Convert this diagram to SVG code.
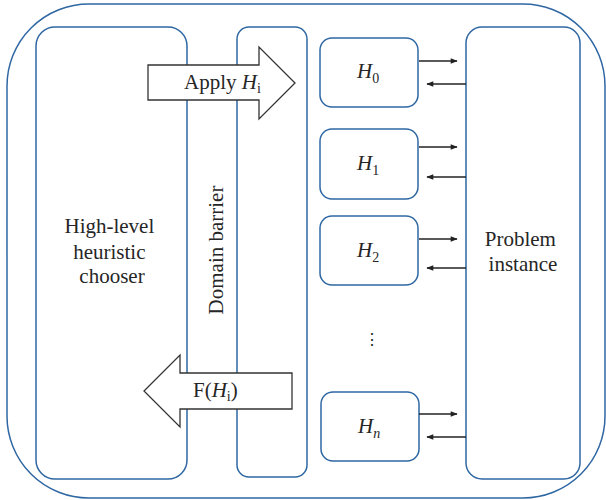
<svg xmlns="http://www.w3.org/2000/svg" width="606" height="500" viewBox="0 0 606 500">
  <style>
    .frame { fill: none; stroke: #2f67a3; stroke-width: 1.5; }
    .box { fill: #ffffff; stroke: #2f67a3; stroke-width: 1.5; }
    .big { fill: #ffffff; stroke: #333333; stroke-width: 1.3; }
    text { font-family: 'Liberation Serif', 'Times New Roman', serif; font-size: 21px; fill: #262626; }
    .it { font-style: italic; }
    .sub { font-size: 14px; }
    .conn { stroke: #222222; stroke-width: 1.6; fill: none; marker-end: url(#ah); }
  </style>
  <defs>
    <marker id="ah" viewBox="0 0 10 10" refX="9" refY="5" markerWidth="9" markerHeight="7" markerUnits="userSpaceOnUse" orient="auto">
      <path d="M0,1 L10,5 L0,9 Z" fill="#222222"/>
    </marker>
  </defs>

  <!-- outer frame -->
  <rect id="outer" class="frame" x="7" y="4" width="598" height="494" rx="82" ry="82"/>

  <!-- heuristic chooser -->
  <g id="chooser">
    <rect class="frame" x="36" y="27" width="151" height="452" rx="19" ry="19"/>
    <text text-anchor="middle">
      <tspan x="112" y="233">High-level</tspan>
      <tspan x="112" y="259">heuristic</tspan>
      <tspan x="112" y="283">chooser</tspan>
    </text>
  </g>

  <!-- domain barrier -->
  <g id="barrier">
    <rect class="frame" x="237" y="27" width="70" height="450" rx="12" ry="12"/>
    <text text-anchor="middle" transform="translate(223,250) rotate(-90)">Domain barrier</text>
  </g>

  <!-- apply arrow -->
  <g id="apply">
    <path class="big" d="M148,65 L259,65 L259,47 L295,83 L259,119 L259,100 L148,100 Z"/>
    <text x="184" y="89">Apply <tspan class="it">H</tspan><tspan class="sub" dy="4">i</tspan></text>
  </g>

  <!-- feedback arrow -->
  <g id="feedback">
    <path class="big" d="M292,373 L180,373 L180,355 L144,391 L180,427 L180,409 L292,409 Z"/>
    <text x="193" y="397">F(<tspan class="it">H</tspan><tspan class="sub" dy="4">i</tspan><tspan dy="-4">)</tspan></text>
  </g>

  <!-- low-level heuristics -->
  <g id="h0">
    <rect class="box" x="320" y="38" width="98" height="69" rx="12" ry="12"/>
    <text x="357" y="78"><tspan class="it">H</tspan><tspan class="sub" dy="5">0</tspan></text>
  </g>
  <g id="h1">
    <rect class="box" x="320" y="129" width="98" height="70" rx="12" ry="12"/>
    <text x="357" y="170"><tspan class="it">H</tspan><tspan class="sub" dy="5">1</tspan></text>
  </g>
  <g id="h2">
    <rect class="box" x="320" y="216" width="98" height="69" rx="12" ry="12"/>
    <text x="357" y="257"><tspan class="it">H</tspan><tspan class="sub" dy="5">2</tspan></text>
  </g>
  <g id="dots">
    <text x="372" y="345" text-anchor="middle" style="font-size:16px">⋮</text>
  </g>
  <g id="hn">
    <rect class="box" x="321" y="392" width="98" height="69" rx="12" ry="12"/>
    <text x="358" y="433"><tspan class="it">H</tspan><tspan class="sub it" dy="5">n</tspan></text>
  </g>

  <!-- problem instance -->
  <g id="problem">
    <rect class="box" x="466" y="27" width="114" height="452" rx="16" ry="16"/>
    <text text-anchor="middle">
      <tspan x="523" y="246">Problem</tspan>
      <tspan x="523" y="271">instance</tspan>
    </text>
  </g>

  <!-- connectors -->
  <g id="connectors">
    <line class="conn" x1="419" y1="61" x2="457" y2="61"/>
    <line class="conn" x1="466" y1="84" x2="427" y2="84"/>
    <line class="conn" x1="419" y1="147" x2="457" y2="147"/>
    <line class="conn" x1="466" y1="177" x2="427" y2="177"/>
    <line class="conn" x1="419" y1="239" x2="457" y2="239"/>
    <line class="conn" x1="466" y1="268" x2="427" y2="268"/>
    <line class="conn" x1="419" y1="414" x2="457" y2="414"/>
    <line class="conn" x1="466" y1="437" x2="427" y2="437"/>
  </g>
</svg>
